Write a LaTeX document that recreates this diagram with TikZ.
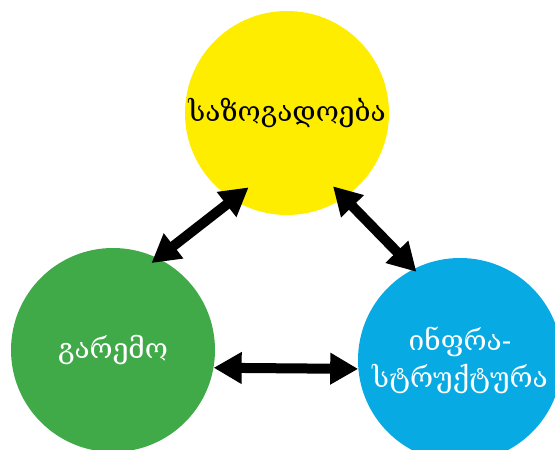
\documentclass[tikz,border=0pt]{standalone}
\usepackage{fontspec}
\newfontfamily\geofont{DejaVu Serif}
\usetikzlibrary{arrows.meta}
\definecolor{yelc}{RGB}{255,237,0}
\definecolor{grnc}{RGB}{64,170,72}
\definecolor{bluc}{RGB}{8,170,228}

\begin{document}
\begin{tikzpicture}[x=1pt, y=-1pt, font=\geofont\fontsize{28}{37}\selectfont,
circ/.style={circle, minimum size=204pt, inner sep=0pt, align=center},
link/.style={line width=10pt, {Triangle[length=28pt,width=30pt]}-{Triangle[length=28pt,width=30pt]}}]
\useasboundingbox (0,0) rectangle (555,450);
\node[circ, fill=yelc] (soc) at (287,113) {საზოგადოება};
\node[circ, fill=grnc, text=white] (env) at (113,350) {გარემო};
\node[circ, fill=bluc, text=white] (inf) at (460,360) {ინფრა-\\სტრუქტურა};
% links between the three
\draw[link, shorten <=-8pt, shorten >=-20pt] (env.64) -- (soc.238);
\draw[link, shorten <=-16pt, shorten >=-4pt] (soc.304) -- (inf.117);
\draw[link] (env.-10.5) -- (inf.185);
\end{tikzpicture}
\end{document}
